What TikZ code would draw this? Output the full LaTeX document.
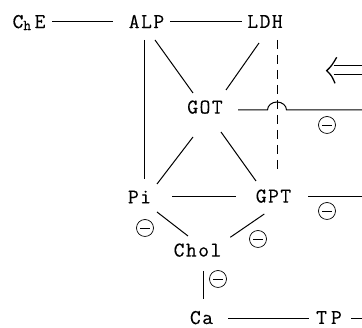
\documentclass[tikz,border=0pt]{standalone}
\usepackage{fontspec}
\setmonofont{Latin Modern Mono}[LetterSpace=7,FakeBold=0.25]
\usetikzlibrary{calc}
\begin{document}
\begin{tikzpicture}[x=1pt,y=1pt,
  lbl/.style={font=\ttfamily\fontsize{21}{21}\selectfont, inner sep=0pt, text depth=0pt},
  conn/.style={line width=1pt},
  dashconn/.style={line width=1pt, dash pattern=on 9pt off 6pt},
  minusc/.style={circle, draw, line width=0.7pt, minimum width=17pt, minimum height=16pt, inner sep=0pt}]
\useasboundingbox (0,0) rectangle (362,328);
% nodes
\node[lbl] (ChE) at (29,306.5) {C\raisebox{-2pt}{\fontsize{15}{15}\selectfont h}\,E};
\node[lbl] (ALP) at (146.5,306.5) {ALP};
\node[lbl] (LDH) at (265,306.5) {LDH};
\node[lbl] (GOT) at (205,221) {GOT};
\node[lbl] (Pi) at (139.5,131) {Pi};
\node[lbl] (GPT) at (273.5,132) {GPT};
\node[lbl] (Chol) at (197.5,78) {Chol};
\node[lbl] (Ca) at (201.5,10.5) {Ca};
\node[lbl] (TP) at (329,10.5) {T\hspace{4pt}P};
% free ends
\coordinate (gotR) at (362,218);
\coordinate (gotHump) at (277,218);
\coordinate (gptR) at (362,131);
\coordinate (tpR) at (362,9);
\coordinate (arrL) at (326.7,257.3);
% connectors
\draw[conn] ([shift={(23,-0.5)}]ChE.center) -- ([shift={(-33.5,-0.5)}]ALP.center);
\draw[conn] ([shift={(23.5,-0.5)}]ALP.center) -- ([shift={(-23,-0.5)}]LDH.center);
\draw[conn] ([shift={(-2.5,-18.5)}]ALP.center) -- ([shift={(4.5,18)}]Pi.center);
\draw[conn] ([shift={(8.5,-18.5)}]ALP.center) -- ([shift={(-12,14)}]GOT.center);
\draw[conn] ([shift={(16,-25)}]GOT.center) -- ([shift={(-17.5,15)}]GPT.center);
\draw[conn] ([shift={(-6,-21.5)}]LDH.center) -- ([shift={(21,17)}]GOT.center);
\draw[conn] ([shift={(-12,-30)}]GOT.center) -- ([shift={(17.5,13)}]Pi.center);
\draw[dashconn] ([shift={(12,-18.5)}]LDH.center) -- ([shift={(3.5,22)}]GPT.center);
\draw[conn] ([shift={(33,-3)}]GOT.center) -- ([shift={(-9.5,0)}]gotHump)
   arc[start angle=180, end angle=0, x radius=9.5, y radius=8] -- (gotR);
\draw[conn] ([shift={(32.5,0)}]Pi.center) -- ([shift={(-37.5,-1)}]GPT.center);
\draw[conn] ([shift={(34.5,-1)}]GPT.center) -- (gptR);
\draw[conn] ([shift={(17.5,-15)}]Pi.center) -- ([shift={(-9.5,14)}]Chol.center);
\draw[conn] ([shift={(-9.2,-18)}]GPT.center) -- ([shift={(32.8,12.7)}]Chol.center);
\draw[conn] ([shift={(6.2,-21)}]Chol.center) -- ([shift={(2.2,18.5)}]Ca.center);
\draw[conn] ([shift={(26.5,-1.5)}]Ca.center) -- ([shift={(-20,-1.5)}]TP.center);
\draw[conn] ([shift={(22,-1.5)}]TP.center) -- (tpR);
% double arrow
\draw[conn] ([shift={(7,5)}]arrL) -- ++(30,0);
\draw[conn] ([shift={(7,-3.5)}]arrL) -- ++(30,0);
\draw[line width=1.3pt] ([shift={(10,13.4)}]arrL) .. controls ([shift={(5,5)}]arrL) .. (arrL)
   .. controls ([shift={(5,-5)}]arrL) .. ([shift={(8.3,-12.6)}]arrL);
% inhibition marks
\foreach \n/\p in {m1/{(327,203)}, m2/{(327,117)}, m3/{(145,100)}, m4/{(258,89)}, m5/{(218,49)}}
  \node[minusc] (\n) at \p {\rule[-0.4pt]{10pt}{0.8pt}};
\end{tikzpicture}
\end{document}
